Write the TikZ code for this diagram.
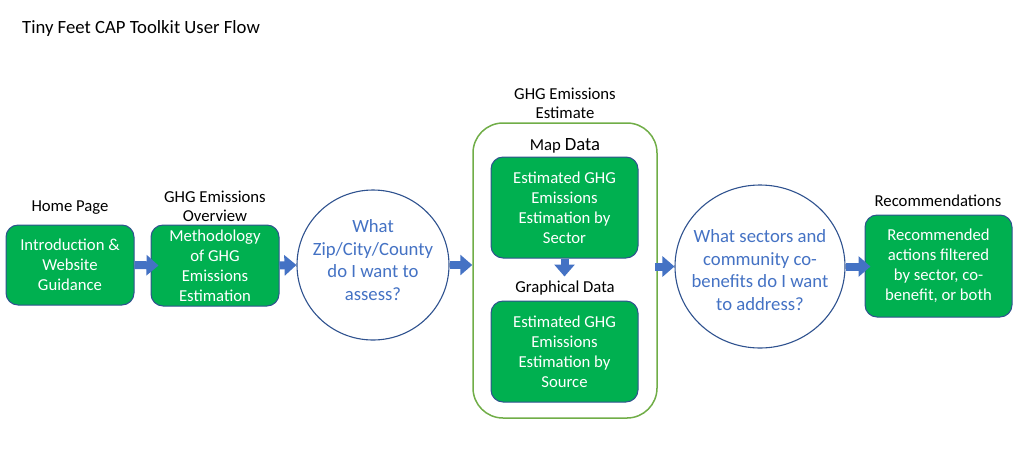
\documentclass[tikz,border=0pt]{standalone}
\usepackage{fontspec}
\setmainfont{Carlito}
\usetikzlibrary{arrows.meta,shapes.geometric}
\definecolor{boxgreen}{HTML}{00B050}
\definecolor{edgeblue}{HTML}{2F528F}
\definecolor{accent}{HTML}{4472C4}
\definecolor{leafgreen}{HTML}{70AD47}
\begin{document}
\begin{tikzpicture}[x=1pt,y=-1pt,
  gbox/.style={draw=edgeblue, line width=1pt, fill=boxgreen, rounded corners=12pt,
    text=white, align=center, inner sep=0pt, font=\fontsize{16.7}{20}\selectfont},
  lbl/.style={align=center, inner sep=0pt, text=black, font=\fontsize{16.7}{19}\selectfont},
  qring/.style={ellipse, draw=edgeblue, line width=1.1pt, fill=white, inner sep=0pt},
  qtext/.style={align=center, inner sep=0pt, text=accent, font=\fontsize{18.7}{22.7}\selectfont},
  flow/.style={draw=accent, line width=8pt, -{Triangle[length=12pt,width=20pt]}},
  holder/.style={draw=leafgreen, line width=1.5pt, rounded corners=30pt, inner sep=0pt}
]
\useasboundingbox (0,0) rectangle (1016,456);

\node[lbl, anchor=base west, font=\fontsize{18.7}{22}\selectfont] (title) at (22,33) {Tiny Feet CAP Toolkit User Flow};

% container
\node[holder, minimum width=184pt, minimum height=295pt] (cont) at (565,270.5) {};

% boxes
\node[gbox, minimum width=128pt, minimum height=80pt] (b1) at (70,265) {Introduction \&\\Website\\Guidance};
\node[gbox, minimum width=128pt, minimum height=81pt] (b2) at (215,265.5) {Methodology\\of GHG\\Emissions\\Estimation};
\node[gbox, minimum width=147pt, minimum height=101pt] (b3) at (564.5,207.5) {Estimated GHG\\Emissions\\Estimation by\\Sector};
\node[gbox, minimum width=147pt, minimum height=101pt] (b4) at (564.5,351.5) {Estimated GHG\\Emissions\\Estimation by\\Source};
\node[gbox, minimum width=147pt, minimum height=102pt] (b5) at (938.5,266) {Recommended\\actions filtered\\by sector, co-\\benefit, or both};

% circles
\node[qring, minimum width=152pt, minimum height=150pt] (c1) at (373,265) {};
\node[qtext] (q1) at (373,260) {What\\Zip/City/County\\do I want to\\assess?};
\node[qring, minimum width=170pt, minimum height=163pt] (c2) at (760,266.5) {};
\node[qtext] (q2) at (760,270) {What sectors and\\community co-\\benefits do I want\\to address?};

% labels
\node[lbl, anchor=base] (l1) at (70,211) {Home Page};
\node[lbl, anchor=base] (l2) at (215,221) {GHG Emissions\\Overview};
\node[lbl, anchor=base] (l3) at (565,118.3) {GHG Emissions\\Estimate};
\node[lbl, anchor=base] (l4) at (565,150.5) {Map {\fontsize{18.7}{19}\selectfont Data}};
\node[lbl, anchor=base] (l5) at (565,292.5) {Graphical Data};
\node[lbl, anchor=base] (l6) at (938,206) {Recommendations};

% arrows
\draw[flow] (b1.east) -- ([xshift=8pt]b2.west);
\draw[flow] (b2.east) -- (c1.west);
\draw[flow] (c1.east) -- (c1.east -| cont.west);
\draw[flow] (b3.south) -- ([yshift=-18pt]b3.south);
\draw[flow] ([xshift=-3pt]c2.west -| cont.east) -- (c2.west);
\draw[flow] (c2.east) -- ([xshift=6pt]c2.east -| b5.west);
\end{tikzpicture}
\end{document}
